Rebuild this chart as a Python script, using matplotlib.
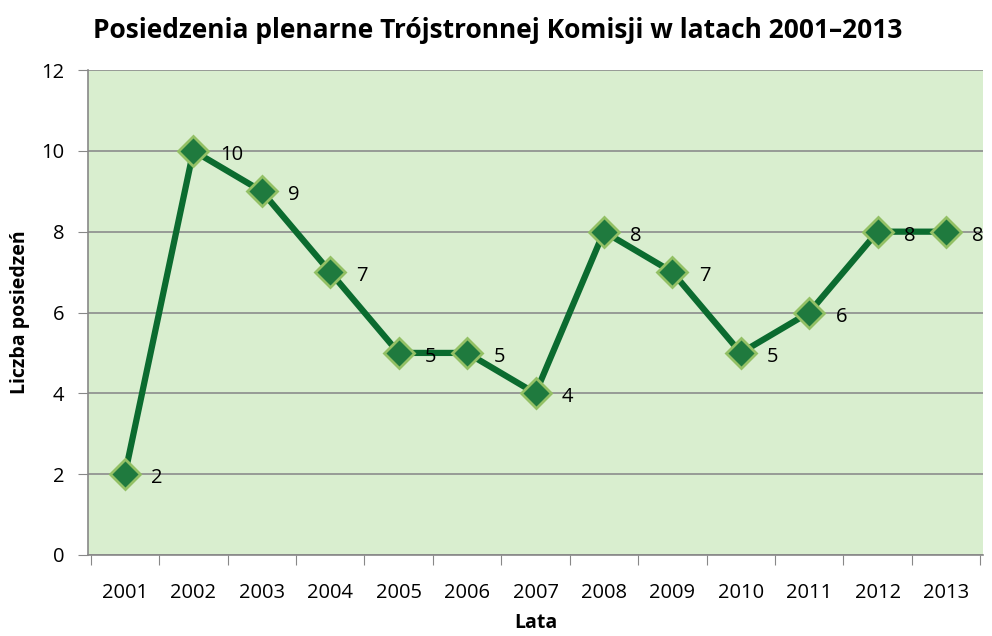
import matplotlib
matplotlib.use("Agg")
import matplotlib.pyplot as plt

years = ["2001", "2002", "2003", "2004", "2005", "2006", "2007",
         "2008", "2009", "2010", "2011", "2012", "2013"]
meetings = [2, 10, 9, 7, 5, 5, 4, 8, 7, 5, 6, 8, 8]

plt.rcParams['font.family'] = ['Open Sans', 'DejaVu Sans']

fig = plt.figure(figsize=(9.92, 6.36), dpi=100)
ax = fig.add_axes([88/992, 1-555/636, (983-88)/992, (555-70)/636])
ax.set_facecolor("#d9eecf")

x = list(range(len(years)))
ax.plot(x, meetings, color="#0b6b2f", linewidth=4.5, zorder=3,
        marker="D", markersize=15, markerfacecolor="#1f7a3e",
        markeredgecolor="#93c065", markeredgewidth=2)

for xi, v in zip(x, meetings):
    ax.annotate(str(v), (xi, v), xytext=(19, -3), textcoords="offset points",
                ha="left", va="center", fontsize=14.5, color="black", zorder=4,
                annotation_clip=False)

ax.set_xlim(-0.54, len(years) - 0.46)
ax.set_ylim(0, 12)
ax.set_yticks(range(0, 13, 2))
ax.set_xticks([i - 0.5 for i in range(len(years) + 1)], minor=False)
ax.set_xticklabels([])
ax.set_xticks(x, minor=True)
ax.set_xticklabels(years, minor=True, fontsize=14.5)
ax.tick_params(axis="x", which="minor", length=0, pad=20)
ax.tick_params(axis="x", which="major", length=7, color="#888888", direction="out")
ax.tick_params(axis="y", length=7, color="#888888", labelsize=14.5, pad=10)

ax.grid(axis="y", color="#8c8c8c", linewidth=1.2, zorder=1)
for s in ["top", "right"]:
    ax.spines[s].set_visible(False)
ax.spines["left"].set_color("#888888")
ax.spines["bottom"].set_color("#888888")
ax.spines["left"].set_linewidth(1.2)
ax.spines["bottom"].set_linewidth(1.2)
ax.set_axisbelow(True)

ax.set_ylabel("Liczba posiedzeń", fontsize=14, fontweight="bold", labelpad=8)
ax.set_xlabel("Lata", fontsize=14, fontweight="bold", labelpad=7)
fig.suptitle("Posiedzenia plenarne Trójstronnej Komisji w latach 2001–2013",
             x=498/992, y=1-30/636, va="center", fontsize=19, fontweight="bold")

fig.savefig("out.png", dpi=100)
